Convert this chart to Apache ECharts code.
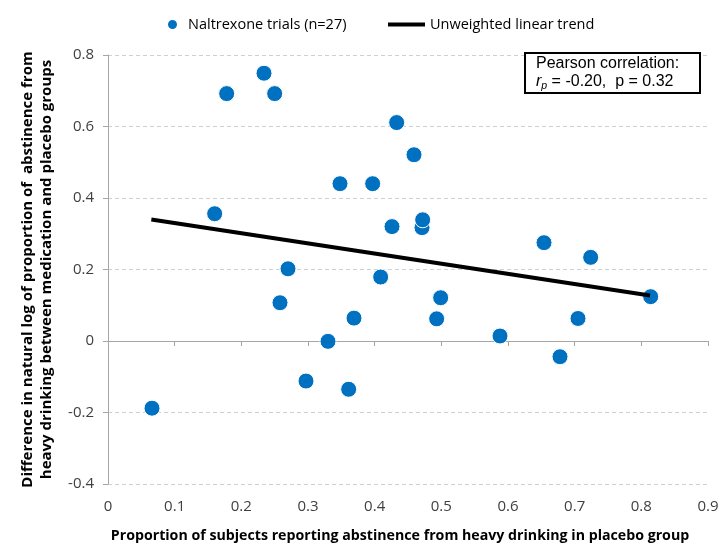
<!DOCTYPE html>
<html>
<head>
<meta charset="utf-8">
<script src="https://cdn.jsdelivr.net/npm/echarts@6/dist/echarts.min.js"></script>
<style>
  html, body { margin: 0; padding: 0; background: #fff; }
  #main { width: 723px; height: 548px; }
</style>
</head>
<body>
<div id="main"></div>
<script>
// placebo abstinence proportion (x) vs log difference (y), one per trial
var trialX = [0.066, 0.160, 0.178, 0.234, 0.250, 0.270, 0.258, 0.297, 0.330, 0.348,
              0.361, 0.369, 0.397, 0.409, 0.426, 0.433, 0.459, 0.471, 0.472, 0.499,
              0.493, 0.588, 0.654, 0.678, 0.705, 0.724, 0.814];
var trialY = [-0.188, 0.356, 0.692, 0.749, 0.692, 0.202, 0.107, -0.112, -0.001, 0.440,
              -0.135, 0.064, 0.440, 0.179, 0.320, 0.611, 0.521, 0.317, 0.339, 0.121,
              0.062, 0.014, 0.275, -0.044, 0.063, 0.234, 0.124];
// trend line end points
var trendX = [0.065, 0.813];
var trendY = [0.340, 0.127];

var xTicks = [0, 0.9, 0.1];   // min, max, step
var yTicks = [-0.4, 0.8, 0.2];

var scatterName = 'Naltrexone trials (n=27)';
var trendName = 'Unweighted linear trend';

var pts = trialX.map(function (x, i) { return [x, trialY[i]]; });
var trendPts = trendX.map(function (x, i) { return [x, trendY[i]]; });

var chart = echarts.init(document.getElementById('main'));

var labelFont = "'Open Sans', sans-serif";

var option = {
    animation: false,
    grid: { left: 108, right: 15, top: 55, bottom: 64 },
    legend: [{
        data: [scatterName],
        left: 161, top: 12,
        icon: 'circle',
        itemWidth: 11, itemHeight: 11,
        textStyle: { fontFamily: labelFont, fontSize: 14.5, color: '#000', padding: [0, 0, 0, 5] }
    }, {
        data: [trendName],
        left: 383, top: 12,
        icon: 'rect',
        itemWidth: 37, itemHeight: 4,
        textStyle: { fontFamily: labelFont, fontSize: 14.5, color: '#000' }
    }],
    xAxis: {
        type: 'value',
        min: xTicks[0], max: xTicks[1], interval: xTicks[2],
        name: 'Proportion of subjects reporting abstinence from heavy drinking in placebo group',
        nameLocation: 'middle',
        nameGap: 45,
        nameTextStyle: { fontFamily: labelFont, fontWeight: 'bold', fontSize: 14.2, color: '#000', padding: [0, 16, 0, 0] },
        axisLine: { lineStyle: { color: '#a6a6a6' } },
        axisTick: { show: true, length: 5, lineStyle: { color: '#a6a6a6' } },
        axisLabel: { margin: 15, fontFamily: labelFont, fontSize: 15, color: '#404040',
            formatter: function (v) { return +v.toFixed(1) + ''; } },
        splitLine: { show: false }
    },
    yAxis: {
        type: 'value',
        min: yTicks[0], max: yTicks[1], interval: yTicks[2],
        name: 'Difference in natural log of proportion of  abstinence from\nheavy drinking between medication and placebo groups',
        nameLocation: 'middle',
        nameGap: 52,
        nameTextStyle: { fontFamily: labelFont, fontWeight: 'bold', fontSize: 15, color: '#000', lineHeight: 19 },
        axisLine: { show: true, lineStyle: { color: '#a6a6a6' } },
        axisTick: { show: true, length: 5, lineStyle: { color: '#a6a6a6' } },
        axisLabel: { margin: 14, fontFamily: labelFont, fontSize: 15, color: '#404040',
            formatter: function (v) { return +v.toFixed(1) + ''; } },
        splitLine: { show: true, lineStyle: { color: '#d0d0d0', type: [4, 3] } }
    },
    graphic: [{
        type: 'rect',
        left: 524, top: 52,
        shape: { width: 175, height: 40 },
        style: { fill: '#fff', stroke: '#000', lineWidth: 2 },
        z: 100
    }, {
        type: 'text',
        left: 536, top: 54,
        z: 101,
        style: {
            text: 'Pearson correlation:\n{i|r}{s|p} = -0.20,  p = 0.32',
            fontFamily: 'Liberation Sans', fontSize: 16, lineHeight: 18.5, fill: '#000',
            rich: {
                i: { fontStyle: 'italic', fontFamily: 'Liberation Sans', fontSize: 16 },
                s: { fontStyle: 'italic', fontFamily: 'Liberation Sans', fontSize: 10.5, padding: [8, 0, 0, 0] }
            }
        }
    }],
    series: [{
        name: scatterName,
        type: 'scatter',
        data: pts,
        symbolSize: 16,
        itemStyle: { color: '#0070c0', borderColor: '#fff', borderWidth: 1, opacity: 1 },
        z: 2
    }, {
        name: trendName,
        type: 'line',
        data: trendPts,
        symbol: 'none',
        lineStyle: { color: '#000', width: 4 },
        itemStyle: { color: '#000' },
        z: 3
    }]
};

chart.setOption(option);
</script>
</body>
</html>
